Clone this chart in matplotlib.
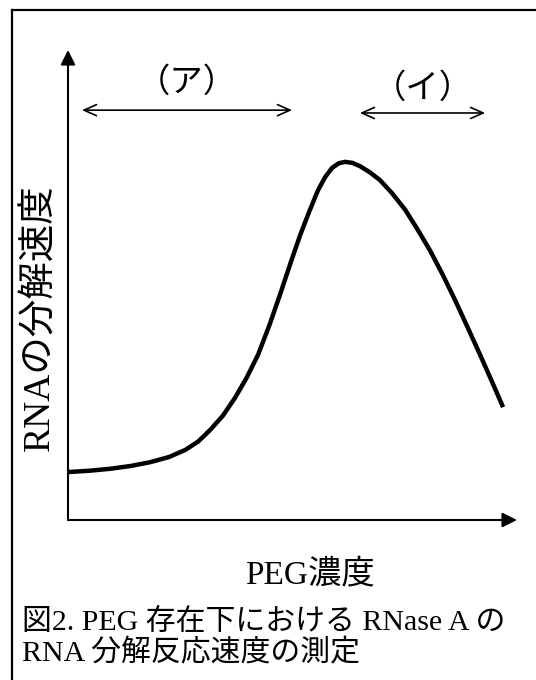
import matplotlib.pyplot as plt
from matplotlib.lines import Line2D

plt.rcParams['font.family'] = ['Liberation Serif', 'Noto Sans CJK JP', 'DejaVu Sans']

# PEG concentration (0..1 along the x axis) vs RNA degradation rate (0..1)
conc = [0.0, 0.050, 0.094, 0.140, 0.183, 0.225, 0.261, 0.290, 0.316, 0.345,
        0.372, 0.398, 0.423, 0.448, 0.472, 0.495, 0.517, 0.538, 0.557, 0.573,
        0.588, 0.603, 0.617, 0.633, 0.650, 0.672, 0.695, 0.722, 0.751, 0.778,
        0.806, 0.834, 0.862, 0.890, 0.918, 0.944, 0.969]
rate = [0.102, 0.105, 0.109, 0.115, 0.123, 0.134, 0.149, 0.167, 0.191, 0.222,
        0.260, 0.303, 0.351, 0.413, 0.479, 0.545, 0.606, 0.658, 0.702, 0.730,
        0.749, 0.759, 0.762, 0.760, 0.753, 0.740, 0.723, 0.695, 0.660, 0.619,
        0.574, 0.523, 0.468, 0.410, 0.351, 0.295, 0.240]

# concentration ranges marked with double arrows
range_labels = ['（ア）', '（イ）']
range_start = [0.031, 0.650]
range_end = [0.499, 0.929]
range_y = [0.872, 0.866]
label_y = [0.930, 0.918]

W, H = 536, 680
fig = plt.figure(figsize=(W / 100, H / 100), dpi=100)

# border (top and left edges only visible in the scan)
fig.add_artist(Line2D([12 / W, 12 / W], [0, 1 - 10 / H], color='k', lw=1.6,
                      transform=fig.transFigure))
fig.add_artist(Line2D([12 / W, 1], [1 - 10 / H, 1 - 10 / H], color='k', lw=1.6,
                      transform=fig.transFigure))

ax = fig.add_axes([68 / W, 1 - 520 / H, 449 / W, 470 / H])
ax.set_xlim(0, 1)
ax.set_ylim(0, 1)
for s in ax.spines.values():
    s.set_visible(False)
ax.set_xticks([])
ax.set_yticks([])
ax.patch.set_alpha(0)

# axes with arrow heads
ax.annotate('', xy=(0, 1), xytext=(0, 0), xycoords='axes fraction',
            arrowprops=dict(arrowstyle='-|>', mutation_scale=22, lw=1.5, color='k',
                            shrinkA=0, shrinkB=0))
ax.annotate('', xy=(1, 0), xytext=(0, 0), xycoords='axes fraction',
            arrowprops=dict(arrowstyle='-|>', mutation_scale=22, lw=1.5, color='k',
                            shrinkA=0, shrinkB=0))

ax.plot(conc, rate, color='k', lw=3.2, solid_capstyle='butt', solid_joinstyle='round')

for lab, x0, x1, y, ly in zip(range_labels, range_start, range_end, range_y, label_y):
    ax.annotate('', xy=(x1, y), xytext=(x0, y),
                arrowprops=dict(arrowstyle='<->,head_length=0.9,head_width=0.4',
                                lw=1.2, color='k', shrinkA=0, shrinkB=0))
    ax.text((x0 + x1) / 2, ly, lab, ha='center', va='center', fontsize=24)

fig.text(40 / W, 1 - 318 / H, 'RNAの分解速度', rotation=90, ha='center', va='center',
         fontsize=27)
fig.text(310 / W, 1 - 575 / H, 'PEG濃度', ha='center', va='center', fontsize=24)

fig.text(22 / W, 1 - 622 / H, '図2. PEG 存在下における RNase A の',
         ha='left', va='center', fontsize=21.5)
fig.text(22 / W, 1 - 653 / H, 'RNA 分解反応速度の測定',
         ha='left', va='center', fontsize=21.5)

fig.savefig('out.png', dpi=100)
